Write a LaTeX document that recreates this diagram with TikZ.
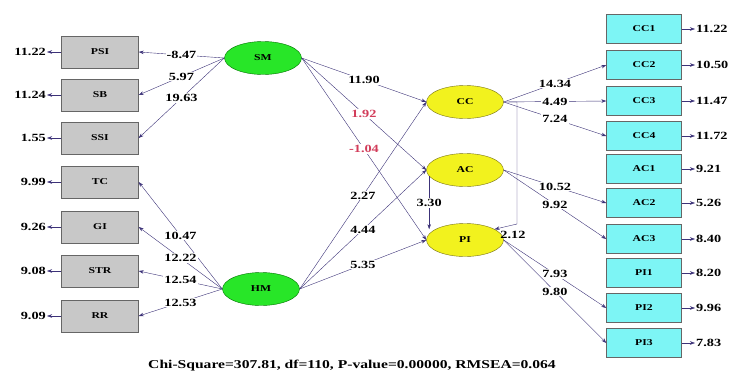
\documentclass[tikz,border=0pt]{standalone}
\usepackage{fontspec}
\setmainfont{Liberation Serif}[FakeStretch=1.3]
\usetikzlibrary{shapes.geometric,arrows.meta}
\definecolor{boxgray}{RGB}{200,200,200}
\definecolor{indcyan}{RGB}{125,245,245}
\definecolor{latgreen}{RGB}{40,230,40}
\definecolor{latyellow}{RGB}{242,242,30}
\definecolor{linkblue}{RGB}{60,50,120}
\definecolor{tred}{RGB}{210,60,90}

\begin{document}
\begin{tikzpicture}[x=1pt,y=-1pt,
    obsbox/.style={draw=black!60,fill=boxgray,minimum width=77pt,minimum height=32pt,inner sep=0pt,font=\fontsize{9}{10}\selectfont\bfseries},
    indbox/.style={draw=black!60,fill=indcyan,minimum width=75pt,minimum height=29pt,inner sep=0pt,font=\fontsize{9}{10}\selectfont\bfseries},
    latent/.style={ellipse,draw=green!45!black,fill=latgreen,minimum width=77pt,minimum height=33pt,inner sep=0pt,font=\fontsize{9}{10}\selectfont\bfseries},
    endo/.style={latent,draw=olive!80!black,fill=latyellow},
    arr/.style={draw=linkblue,thin,-{Stealth[length=5pt,width=3.5pt]}},
    tval/.style={fill=white,inner sep=1pt,font=\fontsize{11}{12}\selectfont\bfseries},
    errv/.style={inner sep=1pt,font=\fontsize{11}{12}\selectfont\bfseries}]
    \useasboundingbox (0,0) rectangle (732,378);

    \foreach \n/\y/\e in {PSI/52/11.22, SB/95/11.24, SSI/138/1.55, TC/182/9.99, GI/227/9.26, STR/271/9.08, RR/316/9.09} {
        \node[obsbox] (\n) at (100,\y) {\n};
        \node[errv, anchor=east] (e\n) at (47,\y) {\e};
        \draw[arr] (\n.west) -- (e\n.east);
    }
    \foreach \n/\y/\e in {CC1/29/11.22, CC2/65/10.50, CC3/101/11.47, CC4/136/11.72, AC1/169/9.21, AC2/203/5.26, AC3/239/8.40, PI1/273/8.20, PI2/308/9.96, PI3/343/7.83} {
        \node[indbox] (\n) at (644,\y) {\n};
        \node[errv, anchor=west] (e\n) at (695,\y) {\e};
        \draw[arr] (\n.east) -- (e\n.west);
    }

    \node[latent] (SM) at (263,58) {SM};
    \node[latent] (HM) at (261,289) {HM};
    \node[endo] (CC) at (465,102) {CC};
    \node[endo] (AC) at (465,170) {AC};
    \node[endo] (PI) at (465,240) {PI};

    \foreach \t/\v in {PSI/-8.47, SB/5.97, SSI/19.63} {
        \draw[arr] (SM.west) -- node[tval] {\v} (\t.east);
    }
    \foreach \t/\v in {TC/10.47, GI/12.22, STR/12.54, RR/12.53} {
        \draw[arr] (HM.west) -- node[tval] {\v} (\t.east);
    }
    \foreach \t/\v/\c in {CC/11.90/black, AC/1.92/tred, PI/-1.04/tred} {
        \draw[arr] (SM.east) -- node[tval, text=\c] {\v} (\t.west);
    }
    \foreach \t/\v in {CC/2.27, AC/4.44, PI/5.35} {
        \draw[arr] (HM.east) -- node[tval] {\v} (\t.west);
    }
    \draw[arr] (AC.190) -- node[tval] {3.30} (AC.190 |- PI.160);
    \coordinate (bend) at (517,224);
    \draw[arr] (CC.east) -| (bend) -- (PI.20);
    \node[errv] (t212) at (513,235) {2.12};

    \foreach \t/\v in {CC2/14.34, CC3/4.49, CC4/7.24} {
        \draw[arr] (CC.east) -- node[tval] {\v} (\t.west);
    }
    \foreach \t/\v in {AC2/10.52, AC3/9.92} {
        \draw[arr] (AC.east) -- node[tval] {\v} (\t.west);
    }
    \foreach \t/\v in {PI2/7.93, PI3/9.80} {
        \draw[arr] (PI.east) -- node[tval] {\v} (\t.west);
    }

    \node[errv, font=\fontsize{12}{14}\selectfont\bfseries] (fit) at (352,366) {Chi-Square=307.81, df=110, P-value=0.00000, RMSEA=0.064};
\end{tikzpicture}
\end{document}
